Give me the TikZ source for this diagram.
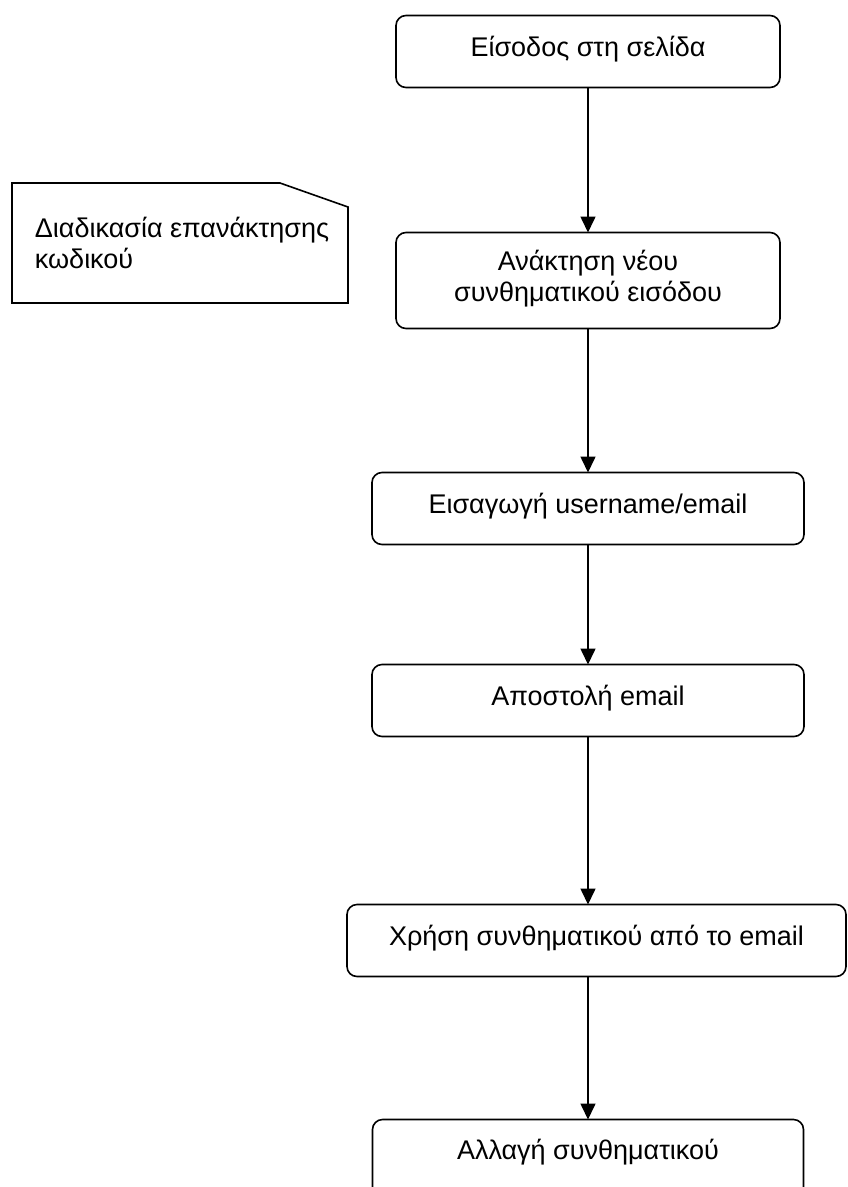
\documentclass[tikz,border=0pt]{standalone}
\usepackage{fontspec}
\setmainfont{Liberation Sans}
\usetikzlibrary{positioning, arrows.meta}

\tikzset{
  stepbox/.style={draw, rounded corners=10pt, minimum height=72pt, align=center,
    inner sep=0pt, outer sep=0pt, text depth=10pt, font=\fontsize{27}{31}\selectfont},
  notebox/.style={minimum width=336pt, minimum height=120pt, align=left,
    inner sep=0pt, outer sep=0pt, font=\fontsize{27}{31}\selectfont},
}

\begin{document}
\begin{tikzpicture}[x=1pt, y=1pt, ->, >={Triangle[width=15pt,length=16pt]}, line width=1.6pt]
    \useasboundingbox (0,0) rectangle (847,-1187);
    \clip (0,0) rectangle (847,-1187);
    % flow of the steps
    \node[stepbox, minimum width=384pt] (enter) at (588,-51.5) {Είσοδος στη σελίδα};
    \node[stepbox, minimum width=384pt, minimum height=96pt, below=145pt of enter] (recover) {Ανάκτηση νέου\\συνθηματικού εισόδου};
    \node[stepbox, minimum width=432pt, below=144pt of recover] (user) {Εισαγωγή username/email};
    \node[stepbox, minimum width=432pt, below=120pt of user] (send) {Αποστολή email};
    \node[stepbox, minimum width=499pt, below=168pt of send, xshift=8.5pt] (use) {Χρήση συνθηματικού από το email};
    \node[stepbox, minimum width=431pt, minimum height=90pt, text depth=30pt, below=143pt of use, xshift=-8.5pt] (change) {Αλλαγή συνθηματικού};
    % note
    \node[notebox, xshift=2pt] (note) at (180,-243) {Διαδικασία επανάκτησης\\κωδικού};
    \draw[-] ([xshift=-2pt]note.north west) -- ([xshift=-70pt]note.north east) -- ([xshift=-2pt,yshift=-24pt]note.north east)
      -- ([xshift=-2pt]note.south east) -- ([xshift=-2pt]note.south west) -- cycle;
    \draw (enter) -- (recover);
    \draw (recover) -- (user);
    \draw (user) -- (send);
    \draw (send.south) -- (send.south |- use.north);
    \draw (change.north |- use.south) -- (change.north);
\end{tikzpicture}
\end{document}
